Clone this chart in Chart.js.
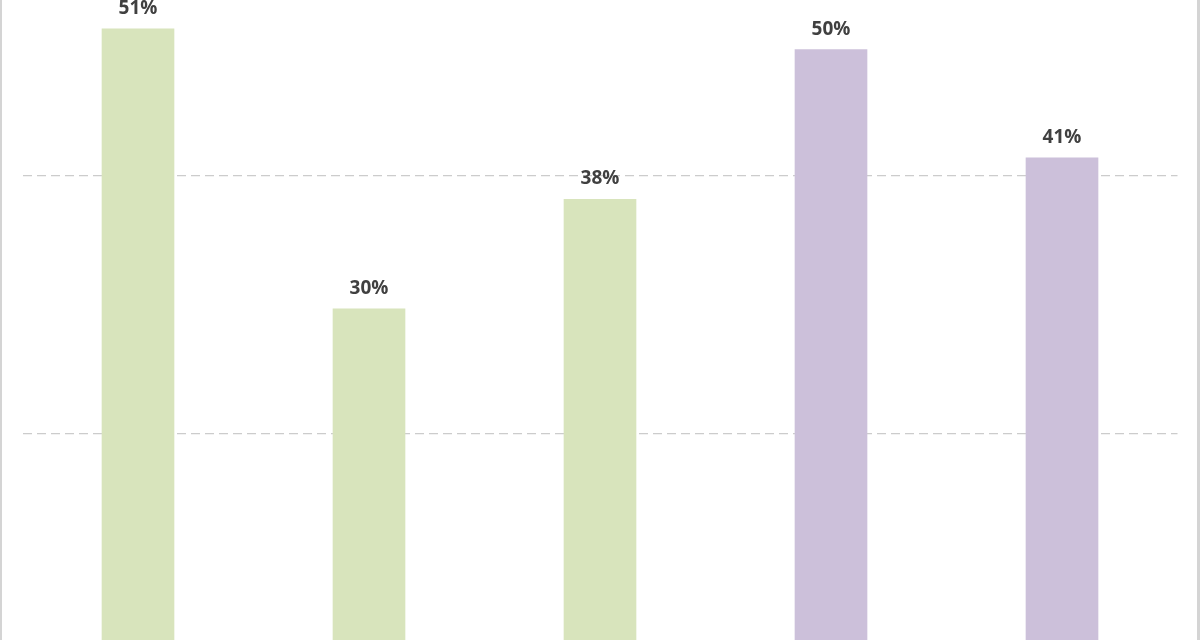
<!DOCTYPE html>
<html>
<head>
<meta charset="utf-8">
<script src="https://cdn.jsdelivr.net/npm/chart.js@4.4.1/dist/chart.umd.min.js"></script>
<style>
  html, body { margin: 0; padding: 0; background: #fff; overflow: hidden; }
  #frame {
    position: relative; width: 1200px; height: 640px; overflow: hidden;
    box-sizing: border-box; border-left: 2px solid #d4d4d4; border-right: 3px solid #d4d4d4;
  }
  #chart { position: absolute; top: -120px; left: -2px; }
</style>
</head>
<body>
<div id="frame"><canvas id="chart" width="1200" height="860"></canvas></div>
<script>
// 값 (막대 높이로 읽은 추정치, 라벨은 반올림)
const categories = ["1", "2", "3", "4", "5"];
const values = [51.4, 29.7, 38.2, 49.8, 41.4];
const barColors = ["#d8e4bc", "#d8e4bc", "#d8e4bc", "#ccc0da", "#ccc0da"];
const yTicks = [0, 20, 40, 60];

// 막대 위 퍼센트 라벨
const valueLabels = {
  id: "valueLabels",
  afterDatasetsDraw(chart) {
    const ctx = chart.ctx;
    const meta = chart.getDatasetMeta(0);
    ctx.save();
    ctx.font = "bold 19px 'Open Sans', Lato, sans-serif";
    ctx.fillStyle = "#404040";
    ctx.textAlign = "center";
    ctx.textBaseline = "alphabetic";
    meta.data.forEach((bar, i) => {
      ctx.fillText(Math.round(values[i]) + "%", bar.x, bar.y - 15);
    });
    ctx.restore();
  }
};

new Chart(document.getElementById("chart"), {
  type: "bar",
  data: {
    labels: categories,
    datasets: [{
      data: values,
      backgroundColor: barColors,
      borderWidth: 0,
      barThickness: 72
    }]
  },
  options: {
    responsive: false,
    animation: false,
    layout: { padding: { left: 22.5, right: 22.5, top: 38, bottom: 48 } },
    plugins: { legend: { display: false }, tooltip: { enabled: false } },
    scales: {
      x: { display: false },
      y: {
        min: yTicks[0],
        max: yTicks[yTicks.length - 1],
        afterBuildTicks: s => { s.ticks = yTicks.map(v => ({ value: v })); },
        ticks: { display: false },
        border: { display: false, dash: [9, 5] },
        grid: { color: "#cccccc", lineWidth: 1.3, tickLength: 0, drawTicks: false }
      }
    }
  },
  plugins: [valueLabels]
});
</script>
</body>
</html>
